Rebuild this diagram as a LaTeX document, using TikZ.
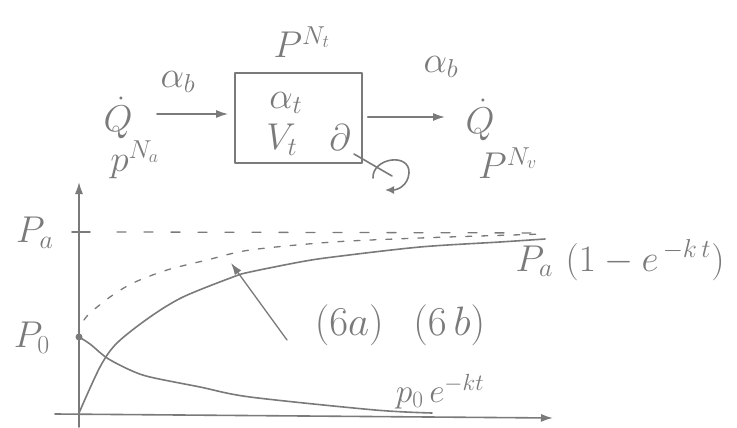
\documentclass[tikz,border=0pt]{standalone}
\usetikzlibrary{arrows.meta}
\definecolor{pen}{HTML}{7A7A7A}
\begin{document}
\begin{tikzpicture}[x=1pt,y=-1pt,
  lbl/.style={text=pen,font=\fontsize{24}{26}\selectfont,inner sep=1pt,scale=1.5},
  stroke/.style={draw=pen,line width=1.6pt,line cap=round,line join=round},
  arr/.style={stroke,-{Latex[length=12pt,width=8pt]}},
  thin/.style={draw=pen,line width=1.3pt,line cap=round}]
\useasboundingbox (0,0) rectangle (737,428);
% upper block diagram
\node[stroke,minimum width=127pt,minimum height=90pt,inner sep=0pt] (box) at (298.5,118) {};
\node[lbl] (pnt) at (302,42) {$P^{N_t}$};
\node[lbl] (at) at (286,103) {$\alpha_t$};
\node[lbl] (vt) at (282,140) {$V_t$};
\node[lbl] (d) at (340,138) {$\partial$};
\node[lbl] (qin) at (118,118) {$\dot Q$};
\node[lbl] (ab1) at (178,82) {$\alpha_b$};
\node[lbl] (pna) at (135,160) {$p^{N_a}$};
\node[lbl] (ab2) at (441,67) {$\alpha_b$};
\node[lbl] (qout) at (480,120) {$\dot Q$};
\node[lbl] (pnv) at (508,163) {$P^{N_v}$};
\draw[arr] (157,114) -- ([xshift=-6pt]box.west |- 0,114);
\draw[arr] ([xshift=5pt]box.east |- 0,117) -- (445,117);
\coordinate (lp) at (392,176);
\draw[stroke] (354,154) -- (lp);
\draw[stroke,-{Latex[length=9pt,width=8pt]}] (373,178) .. controls (372,158) and (410,152) .. (409,173) .. controls (408,186) and (397,190) .. (385,190);
% graph
\coordinate (O) at (79,413);
\coordinate (pa) at (79,232);
\coordinate (p0) at (79,337);
\draw[arr] (79,427) -- (79,182);
\draw[arr] (55,414) -- (553,418);
\draw[stroke] (72,232) -- (90,232);
\draw[thin,dash pattern=on 9pt off 18pt] (117,232) -- (548,233);
\node[lbl] (pal) at (35,233) {$P_a$};
\node[lbl] (p0l) at (32,338) {$P_0$};
\fill[pen] (p0) circle (3.5pt);
% dotted curve
\draw[thin,dash pattern=on 6pt off 10pt] plot[smooth] coordinates {(84,320) (90,313) (110,297) (133,283) (167,270) (207,260) (250,250) (333,242) (420,238) (480,236) (545,234)};
% solid curve
\draw[stroke] plot[smooth] coordinates {(O) (100,367) (117,343) (150,317) (183,297) (233,277) (250,272) (300,262) (333,257) (420,247) (500,242) (545,239)};
% decaying curve
\draw[stroke] plot[smooth] coordinates {(p0) (90,344) (107,358) (130,370) (150,377) (200,387) (250,397) (375,410) (432,413)};
% labels
\node[lbl,scale=1.1] (lab6) at (400,325) {$(6a)\;\;\,(6\,b)$};
\coordinate (tip) at (231,263);
\draw[arr,line width=1.3pt] (287,340) -- (tip);
\node[lbl] (pal2) at (620,260) {$P_a\,\,(1-e^{\,-k\,t})$};
\node[lbl,scale=0.9] (p0e) at (440,392) {$p_0\,e^{-kt}$};
\end{tikzpicture}
\end{document}
